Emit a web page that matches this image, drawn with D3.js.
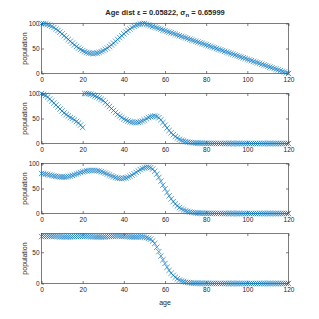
<!DOCTYPE html>
<html>
<head>
<meta charset="utf-8">
<script src="https://cdn.jsdelivr.net/npm/d3@7"></script>
<style>
body { margin: 0; background: #fff; }
svg text { font-family: "Liberation Sans Narrow", "Liberation Sans", Arial, sans-serif; fill: #262626; }
</style>
</head>
<body>
<div class="chart-container"></div>
<script>
// ages 0..120, one value per year
var ages = d3.range(0, 121);

var popA = [100,99.8,99.1,97.9,96.3,94.3,91.9,89.1,86.1,82.8,79.3,75.6,71.9,68.1,64.4,60.7,57.2,53.9,50.9,48.1,45.7,43.7,42.1,40.9,40.2,40,
	40.2,40.9,42.1,43.7,45.7,48.1,50.9,53.9,57.2,60.7,64.4,68.1,71.9,75.6,79.3,82.8,86.1,89.1,91.9,94.3,96.3,97.9,99.1,99.8,100,
	98.6,97.1,95.7,94.3,92.9,91.4,90.0,88.6,87.1,85.7,
	84.3,82.9,81.4,80.0,78.6,77.1,75.7,74.3,72.9,71.4,
	70.0,68.6,67.1,65.7,64.3,62.9,61.4,60.0,58.6,57.1,
	55.7,54.3,52.9,51.4,50.0,48.6,47.1,45.7,44.3,42.9,
	41.4,40.0,38.6,37.1,35.7,34.3,32.9,31.4,30.0,28.6,
	27.1,25.7,24.3,22.9,21.4,20.0,18.6,17.1,15.7,14.3,
	12.9,11.4,10.0,8.6,7.1,5.7,4.3,2.9,1.4,0];

var popB = [100,98,96,93,89,85,81,77,73,69,65,61,58,55,52,50,47,44,41,37,32,
	100,100,99.5,98.5,97,95,93,91,88.5,86,
	82,78,74,70,66,62,58,55,52,49,
	47,45,43.5,42.5,42,42,42.5,43.5,45,47,
	49.5,52,53.5,54.5,55,54,51.5,47.5,42,36.5,
	31,26,21.5,17.5,14,11,8.5,6.5,5,3.8,
	2.9,2.2,1.7,1.3,1.0,0.8,0.6,0.5,0.4,0.3,
	0.3,0.2,0.2,0.2,0.1,0.1,0.1,0.1,0.1,0.1,
	0.1,0.1,0,0,0,0,0,0,0,0,
	0,0,0,0,0,0,0,0,0,0,
	0,0,0,0,0,0,0,0,0,0];

var popC = [80,79.5,78.8,78,77,76,75.2,74.4,73.8,73.3,73,
	73,73.3,74,75,76.2,77.6,79,80.5,82,83.3,
	84.4,85.3,85.9,86.2,86.3,86.1,85.6,84.8,83.7,82.3,
	80.7,78.9,77,75.1,73.4,72,70.9,70.2,70,70.3,
	71.2,72.6,74.5,76.8,79.4,82.2,85,87.7,89.9,91.5,
	92.5,92.6,91.5,88.9,84.6,78.8,72,64.5,56.8,49.2,
	42,35.3,29.2,23.8,19.1,15.1,11.8,9.1,7,5.3,
	4,3,2.2,1.7,1.2,0.9,0.7,0.5,0.4,0.3,
	0.3,0.2,0.2,0.2,0.1,0.1,0.1,0.1,0.1,0.1,
	0.1,0.1,0,0,0,0,0,0,0,0,
	0,0,0,0,0,0,0,0,0,0,
	0,0,0,0,0,0,0,0,0,0];

var popD = [75,75.2,75.4,75.5,75.6,75.6,75.5,75.4,75.2,75.0,74.8,
	74.7,74.6,74.6,74.7,74.9,75.1,75.3,75.5,75.6,75.7,
	75.6,75.5,75.3,75.1,74.9,74.7,74.6,74.5,74.5,74.6,
	74.8,75.0,75.2,75.4,75.6,75.8,75.9,75.9,75.8,75.6,
	75.4,75.1,74.8,74.6,74.5,74.5,74.6,74.7,74.6,74.2,
	73.4,72.3,71,68,64,58,51,44,38,32,
	26,21,16.5,13,10,7.5,5.5,4,3,2.2,
	1.6,1.2,0.9,0.7,0.5,0.4,0.3,0.3,0.2,0.2,
	0.2,0.1,0.1,0.1,0.1,0.1,0.1,0.1,0.1,0.1,
	0,0,0,0,0,0,0,0,0,0,
	0,0,0,0,0,0,0,0,0,0,
	0,0,0,0,0,0,0,0,0,0];

var series = [popA, popB, popC, popD];
var yMaxes = [100, 100, 100, 80];
var xTicks = [0, 20, 40, 60, 80, 100, 120];
var yTicks = [0, 50, 100];

var width = 319, height = 319;
var plotLeft = 41.5, plotW = 247, plotH = 50;
var panelTops = [23.5, 93.5, 163.5, 233.5];
var blue = '#0072BD', axisCol = '#262626';

var svg = d3.select('.chart-container').append('svg')
	.attr('width', width)
	.attr('height', height);

var x = d3.scaleLinear().domain([0, 120]).range([0, plotW]);

series.forEach(function(vals, k) {
	var y = d3.scaleLinear().domain([0, yMaxes[k]]).range([plotH, 0]);
	var g = svg.append('g')
		.attr('transform', 'translate(' + plotLeft + ',' + panelTops[k] + ')');

	// axes, ticks pointing in
	var xAxis = d3.axisBottom(x).tickValues(xTicks).tickSizeInner(-2.5).tickSizeOuter(0).tickPadding(4);
	var xTop = d3.axisTop(x).tickValues(xTicks).tickSizeInner(-2.5).tickSizeOuter(0).tickFormat('');
	var yTk = yTicks.filter(function(t) { return t <= yMaxes[k]; });
	var yAxis = d3.axisLeft(y).tickValues(yTk).tickSizeInner(-2.5).tickSizeOuter(0).tickPadding(2);
	var yRight = d3.axisRight(y).tickValues(yTk).tickSizeInner(-2.5).tickSizeOuter(0).tickFormat('');

	g.append('g').attr('transform', 'translate(0,' + plotH + ')').call(xAxis).call(styleAxis);
	g.append('g').call(xTop).call(styleAxis);
	g.append('g').call(yAxis).call(styleAxis);
	g.append('g').attr('transform', 'translate(' + plotW + ',0)').call(yRight).call(styleAxis);

	g.append('rect')
		.attr('width', plotW)
		.attr('height', plotH)
		.attr('fill', 'none')
		.attr('stroke', axisCol)
		.attr('stroke-width', 0.6);

	g.selectAll('.mark')
		.data(ages)
		.enter().append('path')
		.attr('class', 'mark')
		.attr('transform', function(a, i) { return 'translate(' + x(a) + ',' + y(vals[i]) + ')'; })
		.attr('d', 'M-2.7,-2.7L2.7,2.7M-2.7,2.7L2.7,-2.7')
		.attr('stroke', blue)
		.attr('stroke-width', 0.8)
		.attr('stroke-opacity', 0.85)
		.attr('fill', 'none');

	g.append('text')
		.text('population')
		.attr('transform', 'translate(-15,' + (plotH / 2) + ') rotate(-90)')
		.style('text-anchor', 'middle')
		.style('font-size', '7px');
});

function styleAxis(sel) {
	sel.select('.domain').remove();
	sel.selectAll('.tick line').attr('stroke', axisCol).attr('stroke-width', 0.6);
	sel.selectAll('.tick text').style('font-size', '6.5px').attr('fill', axisCol)
		.style('font-family', '"Liberation Sans Narrow", "Liberation Sans", Arial, sans-serif');
}

svg.append('text')
	.attr('x', plotLeft + plotW / 2)
	.attr('y', panelTops[3] + plotH + 21)
	.style('text-anchor', 'middle')
	.style('font-size', '7px')
	.text('age');

var title = svg.append('text')
	.attr('x', plotLeft + plotW / 2)
	.attr('y', 15)
	.style('text-anchor', 'middle')
	.style('font-size', '7.5px')
	.style('font-weight', 'bold');
title.append('tspan').text('Age dist \u03B5 = 0.05822, \u03C3');
title.append('tspan').attr('dy', 2).style('font-size', '6px').text('n');
title.append('tspan').attr('dy', -2).text(' = 0.65999');
</script>
</body>
</html>
